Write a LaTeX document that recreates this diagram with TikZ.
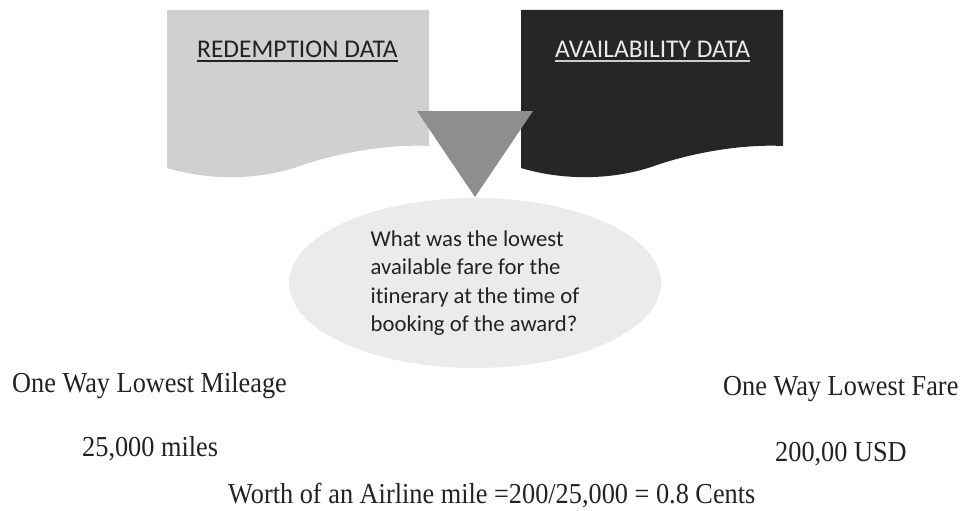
\documentclass[tikz,border=0pt]{standalone}
\usepackage{fontspec}
\setmainfont{Liberation Serif}
\newfontfamily\calib[Ligatures=NoCommon]{Carlito}
\usetikzlibrary{shapes.geometric}
\definecolor{lightdoc}{HTML}{D0D0D0}
\definecolor{darkdoc}{HTML}{262626}
\definecolor{trigray}{HTML}{8E8E8E}
\definecolor{ellgray}{HTML}{EBEBEB}
\definecolor{txtdark}{HTML}{222222}
\newcommand{\tallbox}[1]{\scalebox{1}[1.1]{#1}}
\tikzset{
  x=1pt, y=-1pt,
  hdr/.style={inner sep=0pt, anchor=base west, font=\calib\fontsize{25.5}{30}\selectfont},
  bottomtxt/.style={inner sep=0pt, anchor=base west, text=txtdark, font=\fontsize{26.3}{30}\selectfont},
}
\begin{document}
\begin{tikzpicture}
\useasboundingbox (0,0) rectangle (964,511);
% documents
\fill[lightdoc] (167,10) -- (429,10) -- (429,146)
  .. controls (390,144) and (340,152) .. (300,166)
  .. controls (260,180) and (210,181) .. (167,168) -- cycle;
\fill[darkdoc] (521,10) -- (783,10) -- (783,146)
  .. controls (744,144) and (694,152) .. (654,166)
  .. controls (614,180) and (564,181) .. (521,168) -- cycle;
% headers
\node[hdr, text=txtdark] (h1) at (197,58) {REDEMPTION DATA};
\draw[txtdark, line width=1.6pt] ([yshift=-3pt]h1.base west) -- ([yshift=-3pt]h1.base east);
\node[hdr, text=white!92!black] (h2) at (555,58) {AVAILABILITY DATA};
\draw[white!80!black, line width=1.6pt] ([yshift=-3pt]h2.base west) -- ([yshift=-3pt]h2.base east);
% question ellipse
\node[ellipse, fill=ellgray, minimum width=372pt, minimum height=170pt, inner sep=0pt,
      align=left, text=txtdark, font=\calib\fontsize{22.7}{28.3}\selectfont] (q) at (475,283)
  {What was the lowest\\available fare for the\\itinerary at the time of\\booking of the award?};
% funnel triangle
\fill[trigray] (417,111) -- (533,111) -- (475,197) -- cycle;
% bottom texts
\node[bottomtxt] (m1) at (12,392) {\tallbox{One Way Lowest Mileage}};
\node[bottomtxt] (f1) at (723,395) {\tallbox{One Way Lowest Fare}};
\node[bottomtxt] (m2) at (82,456) {\tallbox{25,000 miles}};
\node[bottomtxt] (f2) at (775,461) {\tallbox{200,00 USD}};
\node[bottomtxt] (w) at (228,503) {\tallbox{Worth of an Airline mile =200/25,000 = 0.8 Cents}};
\end{tikzpicture}
\end{document}
